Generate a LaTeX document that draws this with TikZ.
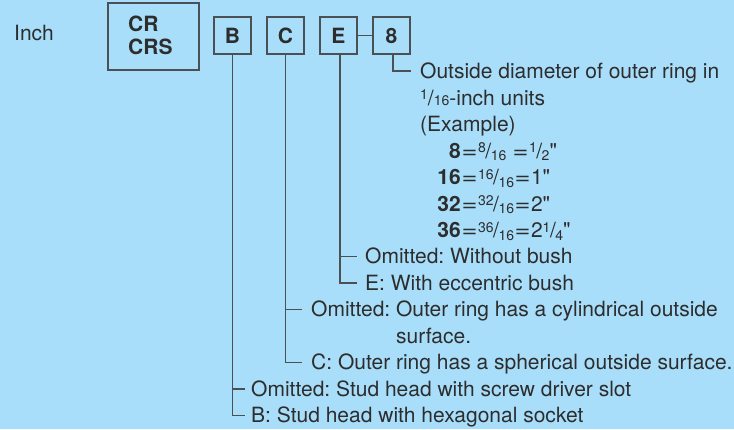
\documentclass[tikz,border=0pt]{standalone}
\usepackage{fontspec}
\setmainfont{TeX Gyre Heros}[Ligatures=TeXOff]
\definecolor{bg}{RGB}{168,222,250}
\definecolor{ln}{RGB}{75,80,85}
\definecolor{tx}{RGB}{45,45,45}
\newcommand\fs{\fontsize{21}{25}\selectfont\frenchspacing}
\newcommand\sm[1]{{\fontsize{14}{15}\selectfont #1}}
\newcommand\frc[2]{\raisebox{5.5pt}{\sm{#1}}\kern-0.5pt/\kern-0.5pt\raisebox{-2.5pt}{\sm{#2}}}
\newcommand\eq{\kern0.5pt\scalebox{1.3}[1.05]{=}\kern0.5pt}
\begin{document}
\begin{tikzpicture}[x=1pt,y=-1pt, font=\fs, text=tx,
  box/.style={draw=ln, line width=1.1pt, minimum width=37pt, minimum height=37pt, inner sep=0pt, font=\fs\bfseries},
  lbl/.style={anchor=base west, inner sep=0pt},
  num/.style={anchor=base east, inner sep=0pt, font=\fs\bfseries},
  conn/.style={draw=ln, line width=1.1pt}]
\fill[bg] (0,0) rectangle (734,429);
\useasboundingbox (0,0) rectangle (734,429);
\node[lbl] (inch) at (14,40) {Inch};
\node[draw=ln, line width=1.1pt, minimum width=91pt, minimum height=67pt, inner sep=0pt] (CR) at (153.5,36.5) {};
\node[lbl, font=\fs\bfseries] (cr1) at (128,31) {CR};
\node[lbl, font=\fs\bfseries] (cr2) at (128,54) {CRS};
\node[box] (B) at (232.5,35.5) {B};
\node[box] (C) at (285.5,35.5) {C};
\node[box] (E) at (338.5,35.5) {E};
\node[box] (N8) at (391.5,35.5) {8};
% 8 description
\node[lbl] (d1) at (420,78) {Outside diameter of outer ring in};
\node[lbl] (d2) at (420,105) {\raisebox{5.5pt}{\sm{1}}/\sm{16}-inch units};
\node[lbl] (d3) at (420,131.5) {(Example)};
\node[num] (n1) at (461,158) {8};
\node[lbl] (q1) at (461,158) {\eq\frc{8}{16} \eq\frc{1}{2}"};
\node[num] (n2) at (461,184.5) {16};
\node[lbl] (q2) at (461,184.5) {\eq\frc{16}{16}\eq1"};
\node[num] (n3) at (461,211) {32};
\node[lbl] (q3) at (461,211) {\eq\frc{32}{16}\eq2"};
\node[num] (n4) at (461,237.5) {36};
\node[lbl] (q4) at (461,237.5) {\eq\frc{36}{16}\eq2\frc{1}{4}"};
% E
\node[lbl] (o1) at (365,263.5) {Omitted: Without bush};
\node[lbl] (o2) at (365,290) {E: With eccentric bush};
% C
\node[lbl] (c1) at (311,316.5) {Omitted: Outer ring has a cylindrical outside};
\node[lbl] (c1b) at (311,343) {\phantom{Omitted: }surface.};
\node[lbl] (c2) at (311,369.5) {C: Outer ring has a spherical outside surface.};
% B
\node[lbl] (b1) at (251,396) {Omitted: Stud head with screw driver slot};
\node[lbl] (b2) at (251,422.5) {B: Stud head with hexagonal socket};
% branch points
\coordinate (Es) at ([xshift=1.5pt]E.south);
\coordinate (N8s) at ([xshift=1.5pt]N8.south);
\coordinate (kd1) at ([shift={(-9pt,7pt)}]d1.base west);
\coordinate (ko1) at ([shift={(-8pt,7pt)}]o1.base west);
\coordinate (ko2) at ([shift={(-8pt,7pt)}]o2.base west);
\coordinate (kc1) at ([shift={(-9pt,7pt)}]c1.base west);
\coordinate (kc2) at ([shift={(-9pt,7pt)}]c2.base west);
\coordinate (kb1) at ([shift={(-6pt,7pt)}]b1.base west);
\coordinate (kb2) at ([shift={(-6pt,7pt)}]b2.base west);
% connectors
\draw[conn] (E.east) -- (N8.west);
\draw[conn] (N8s) |- (kd1);
\draw[conn] (Es) |- (ko2);
\draw[conn] (ko1 -| Es) -- (ko1);
\draw[conn] (C.south) |- (kc2);
\draw[conn] (kc1 -| C.south) -- (kc1);
\draw[conn] (B.south) |- (kb2);
\draw[conn] (kb1 -| B.south) -- (kb1);
\end{tikzpicture}
\end{document}
